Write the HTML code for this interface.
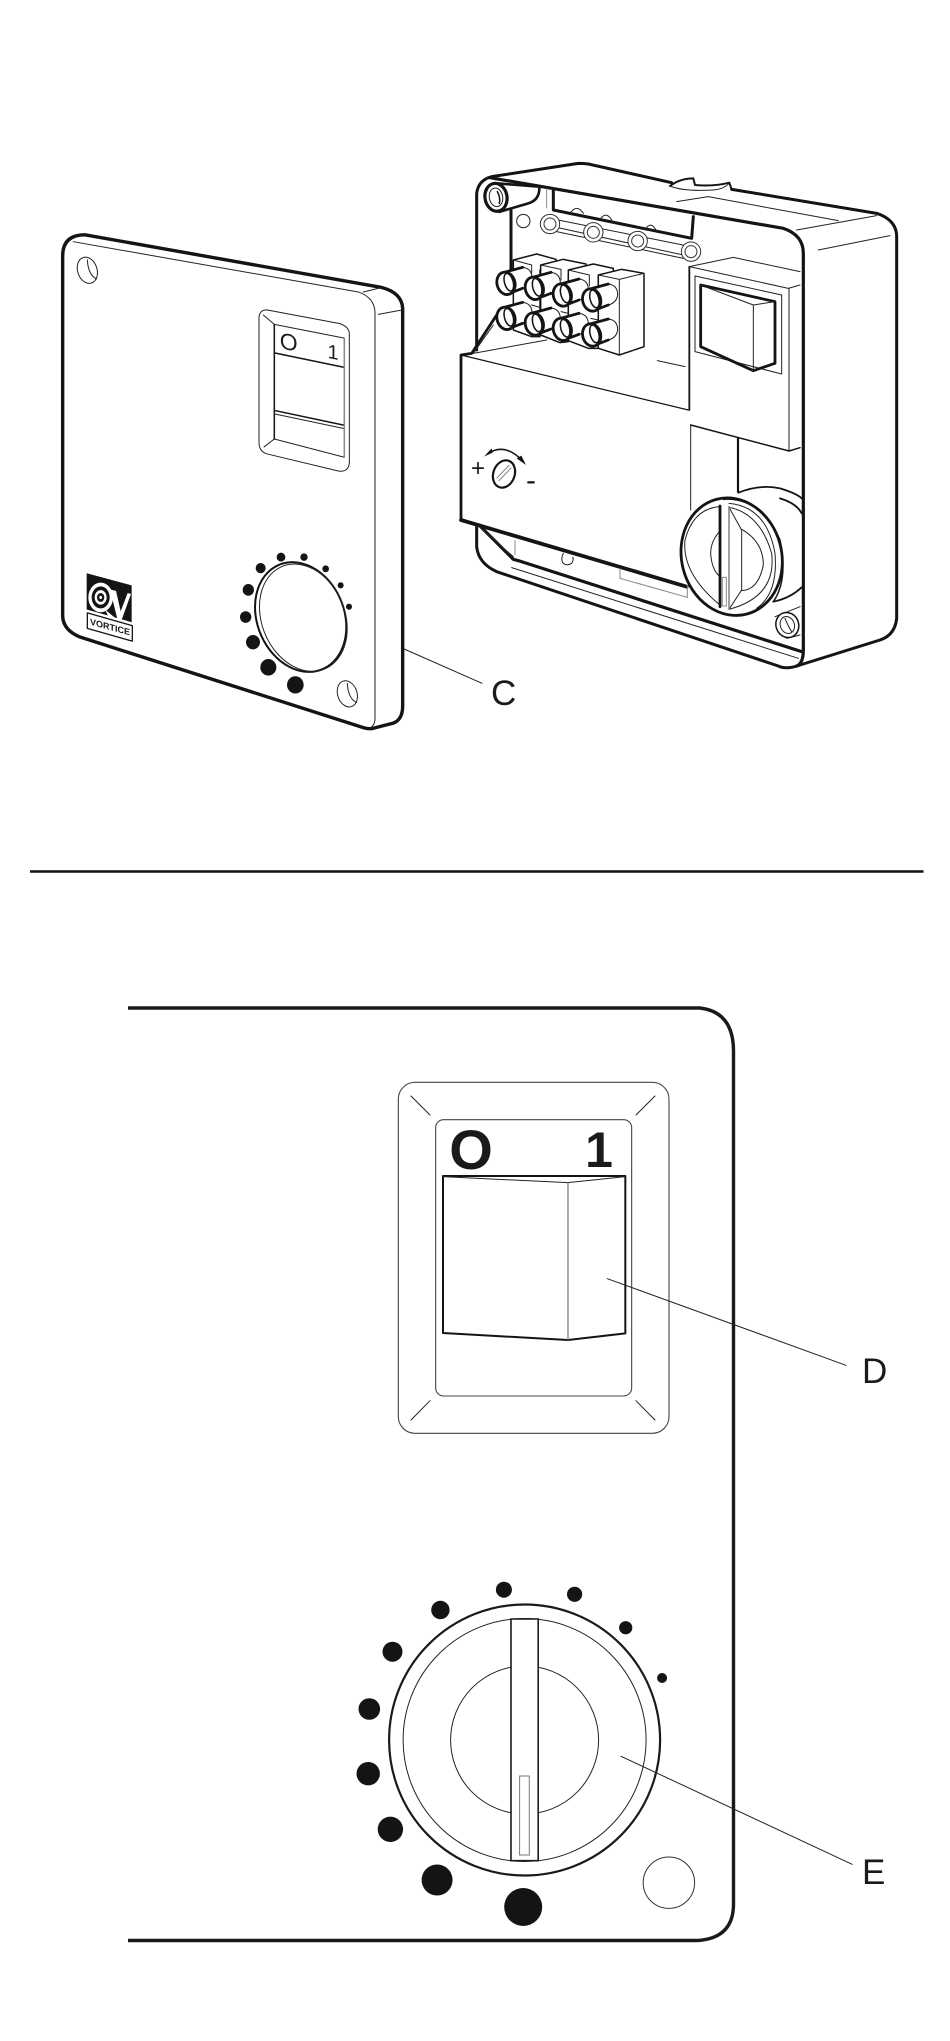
<!DOCTYPE html>
<html><head><meta charset="utf-8"><title>Vortice diagram</title>
<style>
html,body{margin:0;padding:0;background:#fff}
svg{display:block}
svg *{vector-effect:non-scaling-stroke}
.k{fill:none;stroke:#141414;stroke-width:2.8;stroke-linejoin:round;stroke-linecap:round}
.m{fill:none;stroke:#141414;stroke-width:1.5;stroke-linejoin:round;stroke-linecap:round}
.t{fill:none;stroke:#222;stroke-width:1;stroke-linejoin:round;stroke-linecap:round}
.g{fill:none;stroke:#888;stroke-width:1}
.w{fill:#fff}
text{font-family:"Liberation Sans",Arimo,Arial,Helvetica,sans-serif;fill:#1a1a1a}
</style></head><body>
<svg xmlns="http://www.w3.org/2000/svg" width="950" height="2041" viewBox="0 0 950 2041">
<rect width="950" height="2041" fill="#fff"/>
<defs>
<g id="cy">
<path fill="#fff" stroke="none" d="M-5,-33 L50,-48 Q78,-45 78,-15 Q75,8 50,15 L5,32 Z"/>
<path class="t" d="M50,-48 Q78,-45 78,-15 Q75,8 50,15"/>
<path class="k" d="M-5,-33 L50,-48 M5,32 L50,15"/>
<ellipse class="k" style="fill:#fff" cx="0" cy="0" rx="27" ry="34" transform="rotate(-15)"/>
<ellipse class="m" cx="9" cy="-1" rx="13" ry="27" transform="rotate(-15)"/>
</g>
</defs>

<!-- FRONT COVER -->
<g transform="translate(30,210) scale(.33333,.34437)">
<path class="k" style="stroke-width:3.4" d="M98,130 Q100,72 165,72 L1055,225 Q1115,240 1118,285 L1118,1440 Q1118,1480 1090,1490 L1030,1505 Q1015,1508 1000,1503 L150,1240 Q100,1220 98,1180 Z"/>
<path class="t" d="M130,92 L985,238 Q1035,255 1035,300 L1035,1480 Q1035,1495 1020,1505 M1000,238 L1055,225 M1045,303 L1118,290"/>
<ellipse class="t" cx="172" cy="175" rx="29" ry="39" transform="rotate(-20 172 175)"/>
<path class="t" d="M172,145 Q175,190 200,200"/>
<ellipse class="t" cx="952" cy="1405" rx="29" ry="39" transform="rotate(-20 952 1405)"/>
<path class="t" d="M952,1375 Q955,1420 980,1430"/>
<path class="t" d="M710,290 L930,330 Q958,340 958,360 L958,735 Q955,762 925,758 L710,708 Q687,700 687,675 L687,310 Q690,290 710,290 Z"/>
<path class="t" d="M733,332 L943,372 L943,718 L733,665 Z M700,305 L733,332 M702,688 L733,665"/>
<path class="m" d="M733,332 L733,665 M733,415 L943,457 M733,582 L943,625"/>
<path class="t" d="M733,592 L943,635"/>
<path class="g" style="stroke-width:1.5" d="M943,372 L943,718"/>
<ellipse class="m" style="stroke-width:2" cx="812" cy="1182" rx="130" ry="165" transform="rotate(-25 812 1182)"/>
<ellipse class="t" cx="820" cy="1184" rx="124" ry="162" transform="rotate(-25 820 1184)"/>
<g fill="#141414">
<circle cx="692" cy="1040" r="15"/><circle cx="753" cy="1008" r="13"/><circle cx="822" cy="1008" r="11"/>
<circle cx="887" cy="1042" r="10"/><circle cx="932" cy="1090" r="9"/><circle cx="957" cy="1152" r="9"/>
<circle cx="655" cy="1103" r="17"/><circle cx="647" cy="1182" r="17"/><circle cx="669" cy="1255" r="21"/>
<circle cx="715" cy="1328" r="24"/><circle cx="796" cy="1379" r="25"/>
</g>
<path fill="#141414" d="M170,1055 L305,1090 L305,1197 L170,1160 Z"/>
<ellipse cx="212" cy="1125" rx="37" ry="43" fill="#fff"/>
<path fill="#fff" d="M225,1160 L262,1190 L235,1180 Z"/>
<ellipse cx="212" cy="1125" rx="27" ry="32" fill="#141414"/>
<ellipse cx="212" cy="1125" rx="18" ry="21" fill="#fff"/>
<ellipse cx="212" cy="1125" rx="11" ry="13" fill="#141414"/>
<ellipse cx="212" cy="1125" rx="4" ry="5" fill="#fff"/>
<path fill="#fff" d="M240,1102 L258,1106 L272,1165 L293,1112 L303,1115 L275,1190 L262,1187 Z"/>
<path class="m" style="stroke-width:1.3" d="M172,1170 L307,1207 L307,1252 L172,1215 Z"/>
</g>
<g transform="translate(110,630) skewY(15)"><text x="0" y="0" font-size="9" text-anchor="middle" font-weight="bold" textLength="40" lengthAdjust="spacingAndGlyphs">VORTICE</text></g>
<g transform="translate(288.7,350) skewY(11)"><text x="0" y="0" font-size="23" text-anchor="middle">O</text></g>
<g transform="translate(333,359) skewY(11)"><text x="0" y="0" font-size="20" text-anchor="middle">1</text></g>

<line class="t" x1="403" y1="648.5" x2="482" y2="683.3"/>
<text x="491" y="705" font-size="35">C</text>

<!-- OPEN UNIT -->
<g transform="translate(450,150) scale(.33333)">
<path class="k" style="stroke-width:3" d="M80,600 L80,130 Q85,90 125,80 L385,40 Q400,40 415,42 L665,98 M845,118 L1280,190 Q1340,210 1340,260 L1340,1405 Q1335,1455 1290,1470 L1050,1545 Q1010,1560 985,1548 L140,1265 Q85,1240 80,1190 L80,1125"/>
<path class="m" style="stroke-width:2" d="M660,108 Q690,85 730,85 L735,105 Q790,110 838,98 L845,118"/>
<path class="t" d="M660,108 Q700,125 790,120 Q820,118 838,100 M680,155 L775,140 L1165,212 M1040,240 L1280,197 M1105,300 L1320,257 M622,632 L705,650"/>
<path class="k" style="stroke-width:3.2" d="M120,83 L1000,235 Q1060,255 1060,310 L1060,1500 Q1060,1540 1040,1548"/>
<path class="k" style="stroke-width:3" d="M183,180 L183,370 M310,120 L310,180 L725,265 L730,200"/>
<path class="g" d="M290,115 L290,175"/>
<circle class="t" cx="220" cy="213" r="20"/>
<path class="t" d="M360,190 Q380,160 400,190 M450,208 Q470,180 488,215 M585,238 Q605,210 620,245"/>
<path class="t" d="M300,205 L723,290 M310,230 L723,320 M320,245 L700,325"/>
<g fill="#fff" stroke="#333" stroke-width="1">
<circle cx="300" cy="222" r="29"/><circle cx="300" cy="222" r="18"/>
<circle cx="430" cy="247" r="29"/><circle cx="430" cy="247" r="18"/>
<circle cx="563" cy="273" r="29"/><circle cx="563" cy="273" r="18"/>
<circle cx="723" cy="305" r="29"/><circle cx="723" cy="305" r="18"/>
</g>
<path class="w" stroke="#141414" stroke-width="2.6" d="M140,100 L268,110 Q270,150 235,160 L150,185 Z"/>
<ellipse class="k" style="fill:#fff;stroke-width:3.2" cx="138" cy="142" rx="33" ry="42" transform="rotate(-10 138 142)"/>
<ellipse class="t" cx="138" cy="142" rx="20" ry="28" transform="rotate(-10 138 142)"/>
<path class="m" d="M142,125 Q152,142 148,160"/>
<path class="k" style="stroke-width:2.8" d="M33,1110 L33,615 L65,610 L140,495"/>
<path class="t" d="M70,610 L130,525 M70,610 L290,570"/>
<path class="m" style="stroke-width:1.2" d="M33,615 L715,780"/>
<path class="k" style="stroke-width:3.8" d="M33,1110 L710,1310"/>
<path class="k" style="stroke-width:3.2" d="M90,1128 L190,1228 L205,1232 L1055,1505"/>
<path class="t" d="M85,1128 L190,1220 M185,1253 L1045,1525"/>
<path class="g" d="M195,1170 L195,1215 M510,1255 L510,1285 L712,1342 L712,1305"/>
<path class="t" d="M340,1210 Q332,1225 338,1238 Q350,1250 365,1240 Q372,1228 368,1222"/>
<path class="m" style="stroke-width:1.8" d="M718,350 L718,780"/>
<path class="t" d="M718,350 L850,322 L1050,365 M718,350 L1015,415 L1050,405 M1017,415 L1017,903 M722,1080 L722,825"/>
<path class="m" d="M722,825 L1017,903 L1050,893"/>
<path class="k" style="stroke-width:2.2" d="M864,865 L864,1025"/>
<path class="t" d="M735,378 L995,435 L995,672 L735,605 Z"/>
<path class="k" d="M752,405 L975,455 L975,640 L910,662 L752,590 Z"/>
<path class="t" d="M752,405 L910,465 L975,455 M910,465 L910,662"/>
<path class="m" d="M112,912 Q165,875 220,935"/>
<path fill="#141414" d="M102,920 L125,895 L128,908 Z M228,945 L200,925 L214,917 Z"/>
<ellipse class="k" style="stroke-width:2.2" cx="162" cy="972" rx="32" ry="42" transform="rotate(20 162 972)"/>
<path class="g" d="M140,985 L178,945 M146,993 L184,953"/>
<path class="t" d="M975,1400 L1050,1370 M1010,1465 L1050,1455"/>
<ellipse class="m" style="fill:#fff" cx="1012" cy="1425" rx="34" ry="38" transform="rotate(-20 1012 1425)"/>
<ellipse class="t" cx="1012" cy="1425" rx="21" ry="26" transform="rotate(-20 1012 1425)"/>
<path class="t" d="M1005,1405 Q1015,1430 1025,1445"/>
</g>
<text x="478" y="476" font-size="24" text-anchor="middle">+</text>
<text x="531" y="490" font-size="30" text-anchor="middle">-</text>

<!-- terminals -->
<g transform="translate(480,250) scale(.33333)">
<path class="m w" style="fill:#fff" d="M100,30 L170,12 L228,28 L228,50 L180,60 L180,260 L155,260 L100,240 Z"/>
<path class="t" d="M100,30 L155,45 L155,70"/>
<path class="m w" style="fill:#fff" d="M182,45 L250,28 L318,42 L318,65 L265,75 L265,275 L240,278 L182,255 Z"/>
<path class="t" d="M182,45 L243,58 L243,90 M155,165 L180,172 M243,185 L265,190"/>
<path class="m w" style="fill:#fff" d="M265,60 L340,42 L400,55 L400,70 L355,78 L355,295 L325,295 L265,272 Z"/>
<path class="t" d="M265,60 L328,75 L328,108 M332,205 L355,210"/>
<path class="m w" style="fill:#fff" d="M355,75 L425,58 L492,70 L492,290 L418,315 L355,295 Z"/>
<path class="t" d="M355,75 L418,88 L492,70 M418,88 L418,315"/>
<use href="#cy" x="78" y="100"/><use href="#cy" x="163" y="115"/><use href="#cy" x="247" y="135"/><use href="#cy" x="335" y="150"/>
<use href="#cy" x="78" y="205"/><use href="#cy" x="163" y="222"/><use href="#cy" x="247" y="238"/><use href="#cy" x="335" y="255"/>
</g>

<!-- knob of open unit -->
<g transform="translate(660,470) scale(.33333)">
<path fill="#fff" stroke="none" d="M235,68 Q300,45 360,60 Q420,85 425,140 L425,350 L400,370 L340,395 L200,300 Z"/>
<path class="m" style="stroke-width:1.8" d="M235,68 Q300,42 360,55 Q410,70 425,85 M340,395 Q390,385 425,352 M360,85 Q410,100 425,130"/>
<ellipse class="k" style="fill:#fff" cx="215" cy="260" rx="150" ry="178" transform="rotate(-15 215 260)"/>
<path class="m" d="M190,88 Q300,80 360,210 Q385,330 340,395"/>
<path class="t" d="M180,110 Q100,115 75,210 Q65,310 180,405"/>
<path class="t" d="M207,112 Q300,130 335,250 Q350,380 207,418 L245,360 L245,180 Z"/>
<path class="t" d="M207,100 Q320,110 345,250 Q355,370 290,415"/>
<path class="t" d="M178,185 Q152,215 152,250 Q155,300 180,320 M245,178 Q310,215 310,285 Q295,360 245,362"/>
<path class="k" style="stroke-width:2.8" d="M180,108 L180,410"/>
<path class="g" style="stroke-width:1.6" d="M207,108 L207,418"/>
<rect class="g" x="187" y="322" width="12" height="86" style="fill:#fff"/>
</g>

<!-- divider -->
<line x1="30" y1="871.5" x2="923.5" y2="871.5" stroke="#111" stroke-width="2.4"/>

<!-- LOWER DETAIL -->
<path fill="none" stroke="#1a1a1a" stroke-width="3.4" d="M128,1008 L700,1008 Q733,1012 733.5,1050 L733.5,1905 Q733,1938 698,1940.5 L128,1940.5"/>

<g transform="translate(370,1050) scale(.33333)">
<rect class="t" style="stroke:#444;stroke-width:1.1" x="85" y="97" width="812" height="1053" rx="50"/>
<rect class="t" style="stroke:#444;stroke-width:1.1" x="197" y="209" width="588" height="829" rx="24"/>
<path class="t" d="M123,138 L180,195 M855,138 L798,195 M123,1110 L180,1052 M855,1110 L798,1052"/>
<path class="m" style="stroke-width:2" d="M219,378 L766,378 L766,850 L594,870 L219,849 Z"/>
<path class="t" d="M219,380 L594,398 L766,380"/>
<path class="g" style="stroke-width:1.4" d="M594,398 L594,870"/>
<line class="t" x1="712" y1="686" x2="1428" y2="946"/>
</g>
<text x="471" y="1169" font-size="56" font-weight="bold" text-anchor="middle">O</text>
<text x="599" y="1167" font-size="50" font-weight="bold" text-anchor="middle">1</text>
<text x="862" y="1383" font-size="35">D</text>

<circle cx="524.6" cy="1740" r="135.5" fill="none" stroke="#1a1a1a" stroke-width="2.2"/>
<circle cx="524.6" cy="1740" r="121.5" fill="none" stroke="#222" stroke-width="1"/>
<circle cx="524.6" cy="1740" r="74" fill="none" stroke="#222" stroke-width="1"/>
<rect x="511" y="1619" width="27.2" height="241.7" fill="#fff" stroke="#1a1a1a" stroke-width="1.6"/>
<rect x="519.6" y="1776" width="9.7" height="79" fill="#fff" stroke="#777" stroke-width="1"/>
<g fill="#141414">
<circle cx="503.9" cy="1589.7" r="8"/><circle cx="574.6" cy="1594.3" r="7.6"/><circle cx="625.7" cy="1627.7" r="6.6"/>
<circle cx="662.1" cy="1678" r="5"/><circle cx="440.4" cy="1610" r="9.2"/><circle cx="392.5" cy="1651.7" r="10"/>
<circle cx="369.3" cy="1709" r="10.8"/><circle cx="368.2" cy="1773.7" r="11.7"/><circle cx="390.4" cy="1829.3" r="12.7"/>
<circle cx="437.1" cy="1880" r="15.5"/><circle cx="523.2" cy="1907" r="19"/>
</g>
<circle cx="668.9" cy="1882.7" r="25.7" fill="none" stroke="#333" stroke-width="1"/>
<line class="t" x1="621" y1="1756.3" x2="852.1" y2="1864.3"/>
<text x="862" y="1884" font-size="35">E</text>
</svg>
</body></html>
